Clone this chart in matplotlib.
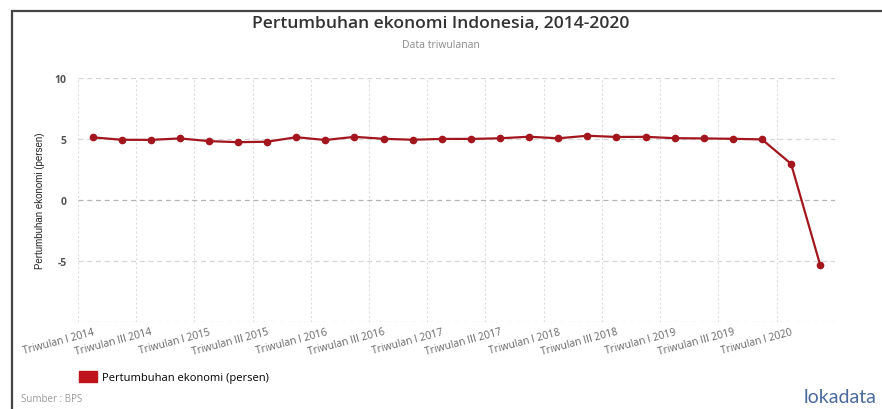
import matplotlib
matplotlib.use("Agg")
import matplotlib.pyplot as plt
from matplotlib.patches import Patch, Rectangle

# quarterly GDP growth (yoy, persen), Q1 2014 - Q2 2020
quarters = []
for year in range(2014, 2021):
    for q in ["I", "II", "III", "IV"]:
        quarters.append(f"Triwulan {q} {year}")
quarters = quarters[:26]

growth = [5.14, 4.94, 4.93, 5.05,
          4.83, 4.74, 4.78, 5.15,
          4.92, 5.18, 5.02, 4.94,
          5.01, 5.01, 5.06, 5.19,
          5.06, 5.27, 5.17, 5.18,
          5.07, 5.05, 5.02, 4.97,
          2.97, -5.32]

y_ticks = [-5, 0, 5, 10]
red = "#a3161d"

fig = plt.figure(figsize=(8.82, 4.10), dpi=100)
ax = fig.add_axes([0.0884, 0.2122, 0.858, 0.595])

x = list(range(len(growth)))
ax.plot(x, growth, color=red, linewidth=1.6, marker="o", markersize=4.5,
        markerfacecolor=red, markeredgecolor=red, zorder=3)

ax.set_xlim(-0.5, len(growth) - 0.5)
ax.set_ylim(-10, 10)

# grid: dotted verticals on every second category boundary, dashed horizontals
for b in range(0, len(growth) + 1, 2):
    ax.axvline(b - 0.5, color="#dddddd", linestyle=(0, (2, 2)), linewidth=0.8, zorder=0)
for v in [-10, -5, 0, 5, 10]:
    col = "#b5b5b5" if v == 0 else "#d6d6d6"
    ax.axhline(v, color=col, linestyle=(0, (4, 3)), linewidth=0.9, zorder=0)

ax.set_xticks(x[::2])
ax.set_xticklabels(quarters[::2], rotation=15, ha="right", rotation_mode="anchor",
                   fontsize=7.4, color="#666666", family="Open Sans")
ax.set_yticks(y_ticks)
ax.set_yticklabels([str(v) for v in y_ticks], fontsize=7.5, color="#555555",
                   family="Open Sans", fontweight="bold")
ax.tick_params(axis="both", length=0)
ax.tick_params(axis="y", pad=8)
ax.tick_params(axis="x", pad=3)
for s in ax.spines.values():
    s.set_visible(False)

ax.set_ylabel("Pertumbuhan ekonomi (persen)", fontsize=7, color="#222222",
              family=["Liberation Sans Narrow", "Liberation Sans"], labelpad=7)

fig.text(0.5, 0.941, "Pertumbuhan ekonomi Indonesia, 2014-2020", ha="center", va="center",
         fontsize=12.6, fontweight="semibold", color="#333333", family="Open Sans")
fig.text(0.5, 0.89, "Data triwulanan", ha="center", va="center",
         fontsize=7.5, color="#8a8a8a", family="Open Sans")

fig.legend(handles=[Patch(facecolor="#c0141c", edgecolor="#c0141c", label="Pertumbuhan ekonomi (persen)")],
           loc="center left", bbox_to_anchor=(0.078, 0.078), frameon=False,
           handlelength=1.6, handleheight=1.1, handletextpad=0.45,
           prop={"family": "Open Sans", "size": 8})

fig.text(0.024, 0.025, "Sumber : BPS", ha="left", va="center", fontsize=7,
         color="#999999", family="Open Sans")
fig.text(0.994, 0.03, "lokadata", ha="right", va="center", fontsize=14,
         color="#4a6a9e", family="Lato")

# outer frame
fig.add_artist(Rectangle((0.014, -0.01), 1.0, 0.98, transform=fig.transFigure,
                         fill=False, edgecolor="#444444", linewidth=1.6, clip_on=False))

fig.savefig("out.png", dpi=100)
